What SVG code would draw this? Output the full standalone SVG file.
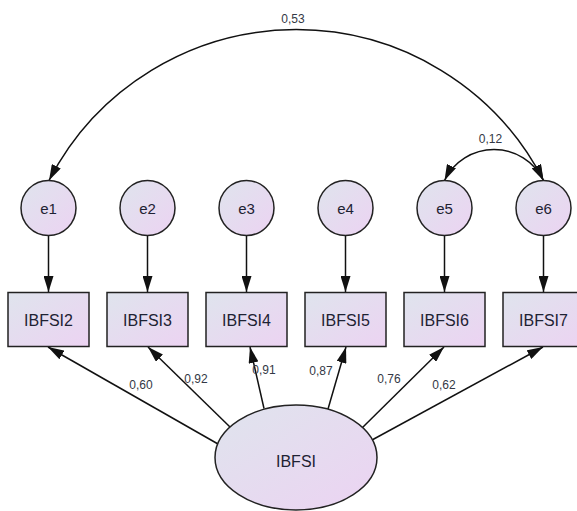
<svg xmlns="http://www.w3.org/2000/svg" width="577" height="511" viewBox="0 0 577 511">
  <defs>
    <linearGradient id="fillGrad" x1="0" y1="0" x2="1" y2="1">
      <stop offset="0" stop-color="#dfe4ed"/>
      <stop offset="1" stop-color="#ecd3f2"/>
    </linearGradient>
    <marker id="arrow" viewBox="0 0 16 10" refX="16" refY="5" markerWidth="16" markerHeight="10" markerUnits="userSpaceOnUse" orient="auto-start-reverse">
      <path d="M0,0 L16,5 L0,10 z" fill="#111"/>
    </marker>
  </defs>
  <style>
    .shape { fill: url(#fillGrad); stroke: #222; stroke-width: 1.5; }
    .name { font-family: "Liberation Sans", Arial, sans-serif; font-size: 16px; fill: #1e2233; text-anchor: middle; }
    .err { font-family: "Liberation Sans", Arial, sans-serif; font-size: 15px; fill: #1e2233; text-anchor: middle; }
    .coef { font-family: "Liberation Sans", Arial, sans-serif; font-size: 12px; fill: #333845; text-anchor: middle; }
    .path { fill: none; stroke: #111; stroke-width: 1.5; marker-end: url(#arrow); }
    .cov { fill: none; stroke: #111; stroke-width: 1.5; marker-start: url(#arrow); marker-end: url(#arrow); }
  </style>
  <rect width="577" height="511" fill="#ffffff"/>

  <!-- connectors -->
  <g id="connectors">
    <!-- covariances -->
    <path class="cov" d="M 49 180.5 A 278 278 0 0 1 543.5 180.5"/>
    <path class="cov" d="M 444.5 180.5 A 55 55 0 0 1 543.5 180.5"/>
    <!-- error terms to indicators -->
    <line class="path" x1="48.5" y1="235.5" x2="48.5" y2="292"/>
    <line class="path" x1="147.5" y1="235.5" x2="147.5" y2="292"/>
    <line class="path" x1="246.5" y1="235.5" x2="246.5" y2="292"/>
    <line class="path" x1="345.5" y1="235.5" x2="345.5" y2="292"/>
    <line class="path" x1="444.5" y1="235.5" x2="444.5" y2="292"/>
    <line class="path" x1="543.5" y1="235.5" x2="543.5" y2="292"/>
    <!-- factor loadings -->
    <line class="path" x1="218" y1="444" x2="48" y2="347"/>
    <line class="path" x1="230" y1="427" x2="148" y2="347"/>
    <line class="path" x1="264" y1="408.5" x2="250" y2="347"/>
    <line class="path" x1="328" y1="409" x2="346" y2="347"/>
    <line class="path" x1="362" y1="428" x2="444" y2="347"/>
    <line class="path" x1="372" y1="440" x2="543" y2="347"/>
    <!-- coefficients -->
    <text class="coef" x="293" y="23">0,53</text>
    <text class="coef" x="490.5" y="143">0,12</text>
    <text class="coef" x="141" y="389">0,60</text>
    <text class="coef" x="196" y="383">0,92</text>
    <text class="coef" x="264" y="374">0,91</text>
    <text class="coef" x="321" y="375">0,87</text>
    <text class="coef" x="389" y="383">0,76</text>
    <text class="coef" x="444" y="389">0,62</text>
  </g>

  <!-- error terms -->
  <g id="e1"><circle class="shape" cx="48.5" cy="208" r="27.5"/><text class="err" x="48.5" y="213.5">e1</text></g>
  <g id="e2"><circle class="shape" cx="147.5" cy="208" r="27.5"/><text class="err" x="147.5" y="213.5">e2</text></g>
  <g id="e3"><circle class="shape" cx="246.5" cy="208" r="27.5"/><text class="err" x="246.5" y="213.5">e3</text></g>
  <g id="e4"><circle class="shape" cx="345.5" cy="208" r="27.5"/><text class="err" x="345.5" y="213.5">e4</text></g>
  <g id="e5"><circle class="shape" cx="444.5" cy="208" r="27.5"/><text class="err" x="444.5" y="213.5">e5</text></g>
  <g id="e6"><circle class="shape" cx="543.5" cy="208" r="27.5"/><text class="err" x="543.5" y="213.5">e6</text></g>

  <!-- observed indicators -->
  <g id="IBFSI2"><rect class="shape" x="8" y="292.5" width="81" height="54"/><text class="name" x="48.5" y="325.5">IBFSI2</text></g>
  <g id="IBFSI3"><rect class="shape" x="107" y="292.5" width="81" height="54"/><text class="name" x="147.5" y="325.5">IBFSI3</text></g>
  <g id="IBFSI4"><rect class="shape" x="206" y="292.5" width="81" height="54"/><text class="name" x="246.5" y="325.5">IBFSI4</text></g>
  <g id="IBFSI5"><rect class="shape" x="305" y="292.5" width="81" height="54"/><text class="name" x="345.5" y="325.5">IBFSI5</text></g>
  <g id="IBFSI6"><rect class="shape" x="404" y="292.5" width="81" height="54"/><text class="name" x="444.5" y="325.5">IBFSI6</text></g>
  <g id="IBFSI7"><rect class="shape" x="503" y="292.5" width="81" height="54"/><text class="name" x="543.5" y="325.5">IBFSI7</text></g>

  <!-- latent factor -->
  <g id="IBFSI"><ellipse class="shape" cx="296" cy="457.5" rx="81" ry="52.5"/><text class="name" x="296" y="467">IBFSI</text></g>
</svg>
